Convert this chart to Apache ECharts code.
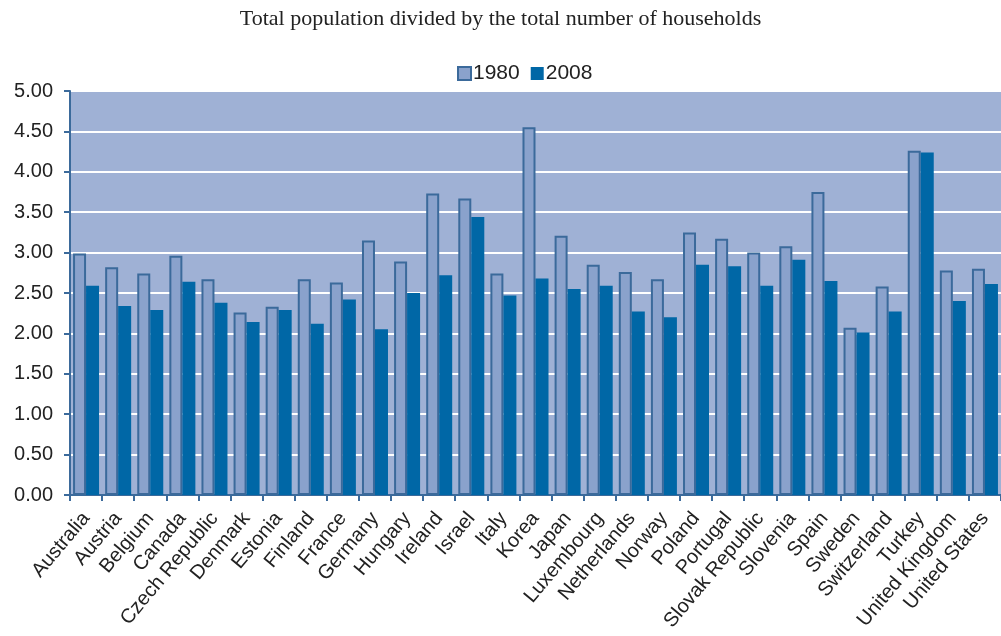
<!DOCTYPE html>
<html>
<head>
<meta charset="utf-8">
<script src="https://cdn.jsdelivr.net/npm/echarts@6/dist/echarts.min.js"></script>
<style>
  html, body { margin: 0; padding: 0; background: #fff; }
  #chart { width: 1001px; height: 636px; }
</style>
</head>
<body>
<div id="chart"></div>
<script>
  // countries on the x axis
  const countries = [
    'Australia', 'Austria', 'Belgium', 'Canada', 'Czech Republic', 'Denmark',
    'Estonia', 'Finland', 'France', 'Germany', 'Hungary', 'Ireland', 'Israel',
    'Italy', 'Korea', 'Japan', 'Luxembourg', 'Netherlands', 'Norway', 'Poland',
    'Portugal', 'Slovak Republic', 'Slovenia', 'Spain', 'Sweden', 'Switzerland',
    'Turkey', 'United Kingdom', 'United States'
  ];
  const seriesNames = ['1980', '2008'];
  const values1980 = [
    2.99, 2.82, 2.74, 2.96, 2.67, 2.26, 2.33, 2.67, 2.63, 3.15, 2.89, 3.73, 3.67,
    2.74, 4.55, 3.21, 2.85, 2.76, 2.67, 3.25, 3.17, 3.00, 3.08, 3.75, 2.07, 2.58,
    4.26, 2.78, 2.80
  ];
  const values2008 = [
    2.59, 2.34, 2.29, 2.64, 2.38, 2.14, 2.29, 2.12, 2.42, 2.05, 2.50, 2.72, 3.44,
    2.47, 2.68, 2.55, 2.59, 2.27, 2.20, 2.85, 2.83, 2.59, 2.91, 2.65, 2.01, 2.27,
    4.24, 2.40, 2.61
  ];
  const yTicks = { min: 0, max: 5, interval: 0.5 };

  const chart = echarts.init(document.getElementById('chart'));
  const axisBlue = '#3b6a9b';
  const sans = '"Liberation Sans", Arial, sans-serif';

  const option = {
    animation: false,
    title: {
      text: 'Total population divided by the total number of households',
      left: 'center',
      top: 3,
      textStyle: {
        fontFamily: '"Liberation Serif", "DejaVu Serif", serif',
        fontWeight: 'normal',
        fontSize: 22,
        color: '#222'
      }
    },
    legend: {
      left: 452,
      top: 58,
      itemWidth: 13,
      itemHeight: 13,
      itemGap: 11,
      icon: 'rect',
      textStyle: {
        fontFamily: sans,
        fontSize: 21,
        color: '#222',
        padding: [0, 0, 0, -3]
      },
      data: seriesNames
    },
    grid: {
      left: 70,
      top: 91,
      bottom: 141,
      right: -6,
      show: true,
      backgroundColor: '#9fb1d5',
      borderWidth: 0
    },
    xAxis: {
      type: 'category',
      data: countries,
      axisLine: { lineStyle: { color: axisBlue, width: 2 } },
      axisTick: { show: true, length: 6, lineStyle: { color: axisBlue, width: 2 } },
      axisLabel: {
        rotate: 50,
        interval: 0,
        margin: 20,
        fontFamily: sans,
        fontSize: 20,
        color: '#222'
      }
    },
    yAxis: {
      type: 'value',
      min: yTicks.min,
      max: yTicks.max,
      interval: yTicks.interval,
      axisLine: { show: true, lineStyle: { color: axisBlue, width: 2 } },
      axisTick: { show: true, length: 6, lineStyle: { color: axisBlue, width: 2 } },
      splitLine: { lineStyle: { color: '#ffffff', width: 2 } },
      axisLabel: {
        margin: 17,
        formatter: (v) => v.toFixed(2),
        fontFamily: sans,
        fontSize: 20,
        color: '#222'
      }
    },
    series: [
      {
        name: seriesNames[0],
        type: 'bar',
        data: values1980,
        barGap: '0%',
        barCategoryGap: '19%',
        itemStyle: { color: '#8aa2cc', borderColor: '#3b6a9b', borderWidth: 2 }
      },
      {
        name: seriesNames[1],
        type: 'bar',
        data: values2008,
        itemStyle: { color: '#0067a6' }
      }
    ]
  };
  chart.setOption(option);
</script>
</body>
</html>
